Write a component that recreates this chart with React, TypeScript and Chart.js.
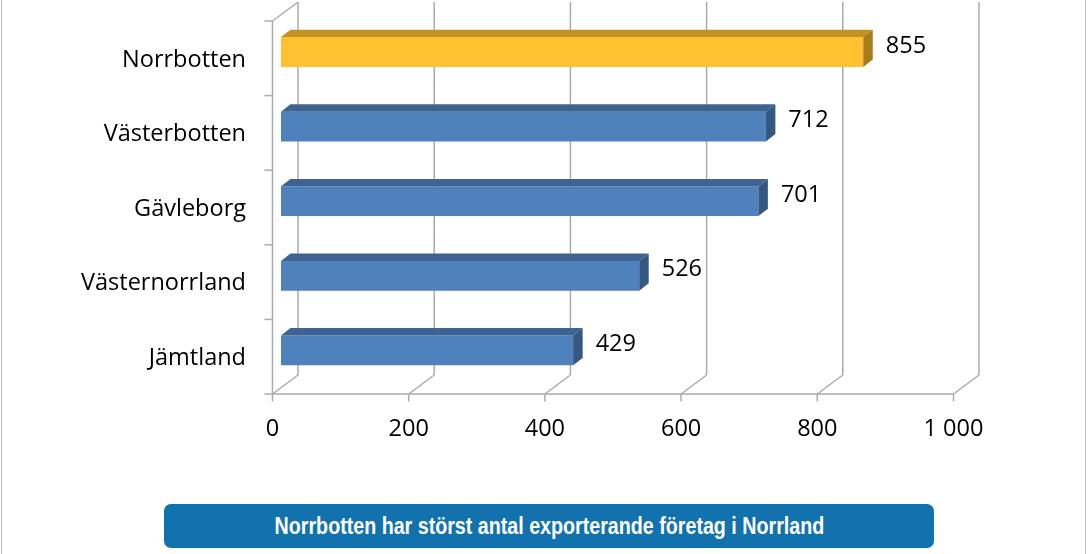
import { useEffect, useRef } from "react";
import { Chart, registerables } from "chart.js";

Chart.register(...registerables);

// data
const categories = ["Norrbotten", "Västerbotten", "Gävleborg", "Västernorrland", "Jämtland"];
const exportCompanies = [855, 712, 701, 526, 429];
const xTickValues = [0, 200, 400, 600, 800, 1000];
const xTickLabels = ["0", "200", "400", "600", "800", "1 000"];
const caption = "Norrbotten har störst antal exporterande företag i Norrland";

const FONT = '"Open Sans", "DejaVu Sans", sans-serif';
const GRID = "#ABABAB";

// 3D look: front plane, back wall and bar depth, relative to the bar plane
const FRONT = { dx: -8.5, dy: 6.3 };
const BACK = { dx: 17, dy: -12.7 };
const DEPTH = { dx: 9.5, dy: -7.4 };

const BLUE = { front: "#4F81BD", top: "#3E6392", side: "#355881" };
const GOLD = { front: "#FFC12F", top: "#C29222", side: "#A77D1B" };

const threeD = {
  id: "threeD",
  beforeDatasetsDraw(chart: any) {
    const { ctx, chartArea: a, scales } = chart;
    const xs = scales.x;
    const line = (x1: number, y1: number, x2: number, y2: number) => {
      ctx.beginPath();
      ctx.moveTo(x1, y1);
      ctx.lineTo(x2, y2);
      ctx.stroke();
    };
    ctx.save();
    ctx.strokeStyle = GRID;
    ctx.lineWidth = 1.5;
    for (const v of xTickValues) {
      const p = xs.getPixelForValue(v);
      // back wall
      line(p + BACK.dx, a.top + BACK.dy, p + BACK.dx, a.bottom + BACK.dy);
      // floor
      line(p + FRONT.dx, a.bottom + FRONT.dy, p + BACK.dx, a.bottom + BACK.dy);
      // tick mark
      line(p + FRONT.dx, a.bottom + FRONT.dy, p + FRONT.dx, a.bottom + FRONT.dy + 7.5);
    }
    const x0 = xs.getPixelForValue(0);
    const x1 = xs.getPixelForValue(xTickValues[xTickValues.length - 1]);
    line(x0 + FRONT.dx, a.top + FRONT.dy, x0 + FRONT.dx, a.bottom + FRONT.dy);
    line(x0 + FRONT.dx, a.top + FRONT.dy, x0 + BACK.dx, a.top + BACK.dy);
    line(x0 + FRONT.dx, a.bottom + FRONT.dy, x1 + FRONT.dx, a.bottom + FRONT.dy);
    const n = categories.length;
    for (let i = 0; i <= n; i++) {
      const yy = a.top + ((a.bottom - a.top) * i) / n + FRONT.dy;
      line(x0 + FRONT.dx - 8, yy, x0 + FRONT.dx, yy);
    }
    ctx.restore();
  },
  afterDatasetsDraw(chart: any) {
    const { ctx } = chart;
    const meta = chart.getDatasetMeta(0);
    ctx.save();
    meta.data.forEach((el: any, i: number) => {
      const { x, y, base, height } = el.getProps(["x", "y", "base", "height"], true);
      const c = i === 0 ? GOLD : BLUE;
      const top = y - height / 2;
      const bot = y + height / 2;
      // top face
      ctx.fillStyle = c.top;
      ctx.beginPath();
      ctx.moveTo(base, top);
      ctx.lineTo(x, top);
      ctx.lineTo(x + DEPTH.dx, top + DEPTH.dy);
      ctx.lineTo(base + DEPTH.dx, top + DEPTH.dy);
      ctx.closePath();
      ctx.fill();
      // side face
      ctx.fillStyle = c.side;
      ctx.beginPath();
      ctx.moveTo(x, top);
      ctx.lineTo(x + DEPTH.dx, top + DEPTH.dy);
      ctx.lineTo(x + DEPTH.dx, bot + DEPTH.dy);
      ctx.lineTo(x, bot);
      ctx.closePath();
      ctx.fill();
      // value label
      ctx.fillStyle = "#000";
      ctx.font = `23.5px ${FONT}`;
      ctx.textAlign = "left";
      ctx.textBaseline = "middle";
      ctx.fillText(String(exportCompanies[i]), x + DEPTH.dx + 13, y - 6);
    });
    ctx.restore();
  },
};

const noScalePadding = (s: any) => {
  s.paddingTop = 0;
  s.paddingBottom = 0;
  s.paddingLeft = 0;
  s.paddingRight = 0;
};

function BarChart3D() {
  const canvasRef = useRef<HTMLCanvasElement | null>(null);

  useEffect(() => {
    if (!canvasRef.current) return;
    const chart = new Chart(canvasRef.current, {
      type: "bar",
      data: {
        labels: categories,
        datasets: [
          {
            data: exportCompanies,
            backgroundColor: (c: any) => (c.dataIndex === 0 ? GOLD.front : BLUE.front),
            barPercentage: 0.4,
            categoryPercentage: 1,
          },
        ],
      },
      options: {
        indexAxis: "y",
        responsive: false,
        animation: false,
        events: [],
        layout: { padding: { top: 14.7, right: 129, bottom: 0, left: 0 } },
        plugins: { legend: { display: false }, tooltip: { enabled: false } },
        scales: {
          x: {
            min: 0,
            max: 1000,
            afterFit: (s: any) => {
              s.height = 554 - 387.7;
              noScalePadding(s);
            },
            afterBuildTicks: (s: any) => {
              s.ticks = xTickValues.map((v) => ({ value: v }));
            },
            grid: { display: false, drawTicks: false },
            border: { display: false },
            ticks: {
              padding: 28,
              labelOffset: FRONT.dx,
              color: "#000",
              font: { family: FONT, size: 23.5 },
              maxRotation: 0,
              callback: (v: any) => xTickLabels[xTickValues.indexOf(Number(v))] ?? "",
            },
          },
          y: {
            afterFit: (s: any) => {
              s.width = 281;
              noScalePadding(s);
            },
            grid: { display: false, drawTicks: false },
            border: { display: false },
            ticks: {
              padding: 35,
              labelOffset: 8,
              color: "#000",
              font: { family: FONT, size: 23.5 },
            },
          },
        },
      },
      plugins: [threeD],
    } as any);
    return () => chart.destroy();
  }, []);

  return <canvas ref={canvasRef} width={1091} height={554} style={{ width: 1091, height: 554, display: "block" }} />;
}

export default function App() {
  return (
    <div style={{ position: "absolute", left: 0, top: 0, width: 1091, height: 554, background: "#fff", overflow: "hidden" }}>
      <BarChart3D />
      <div style={{ position: "absolute", left: 1, top: 0, width: 1, height: 554, background: "#BDBDBD" }} />
      <div style={{ position: "absolute", left: 1085, top: 0, width: 1, height: 554, background: "#BDBDBD" }} />
      <div
        style={{
          position: "absolute",
          left: 164,
          top: 504,
          width: 770,
          height: 44,
          borderRadius: 7,
          background: "#1272AE",
          display: "flex",
          alignItems: "center",
          justifyContent: "center",
        }}
      >
        <span
          style={{
            color: "#fff",
            fontFamily: '"Liberation Sans", Arial, sans-serif',
            fontWeight: "bold",
            fontSize: 23,
            whiteSpace: "nowrap",
            transform: "scaleX(0.855)",
            display: "inline-block",
          }}
        >
          {caption}
        </span>
      </div>
    </div>
  );
}
